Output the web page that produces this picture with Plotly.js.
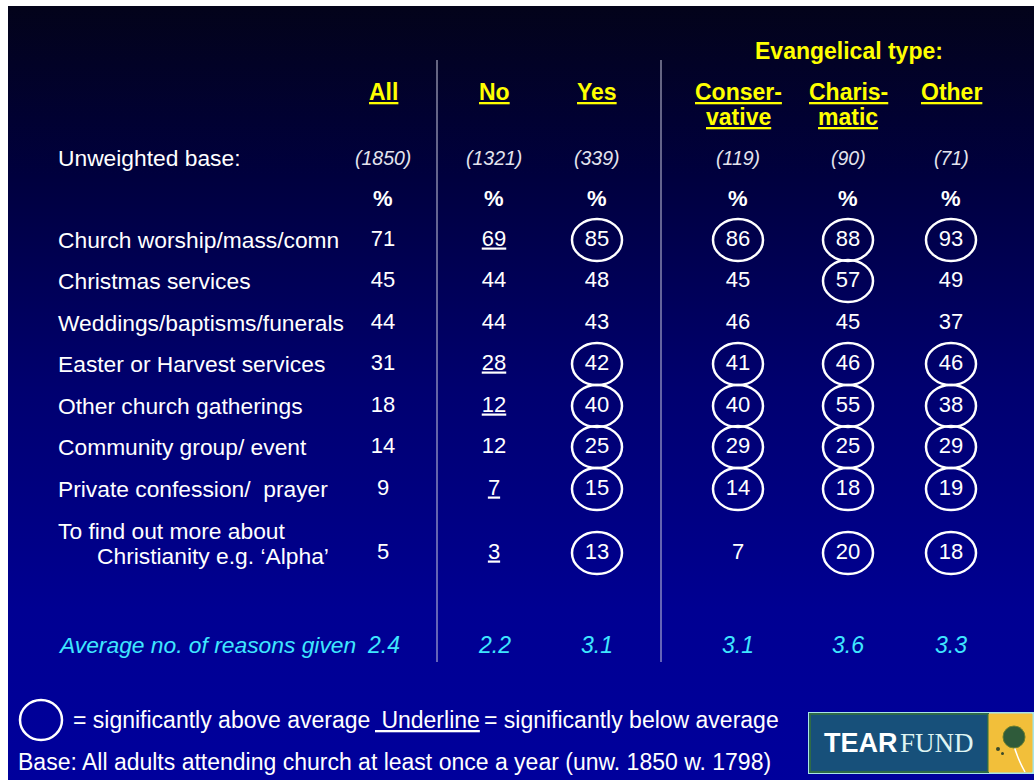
<!DOCTYPE html>
<html>
<head>
<meta charset="utf-8">
<script src="https://cdn.plot.ly/plotly-3.0.1.min.js"></script>
<style>
  body { margin: 0; background: #fff; }
  #wrap { position: relative; width: 1034px; height: 780px; overflow: hidden; background: #fff; }
  #bg { position: absolute; left: 8px; top: 6px; width: 1026px; height: 774px;
        background: linear-gradient(to bottom, #03031a 0%, #00003e 22%, #000070 50%, #000092 78%, #00009c 100%); }
  #chart { position: absolute; left: 0; top: 0; width: 1034px; height: 780px; }
</style>
</head>
<body>
<div id="wrap"><div id="bg"></div><div id="chart"></div></div>
<script>
// column headings, split where the slide breaks them
var headTop = ['All', 'No', 'Yes', 'Conser-', 'Charis-', 'Other'];
var headBottom = ['', '', '', 'vative', 'matic', ''];
var bases = ['(1850)', '(1321)', '(339)', '(119)', '(90)', '(71)'];

var reasons = [
    'Church worship/mass/comn',
    'Christmas services',
    'Weddings/baptisms/funerals',
    'Easter or Harvest services',
    'Other church gatherings',
    'Community group/ event',
    'Private confession/  prayer',
    'To find out more about\nChristianity e.g. \u2018Alpha\u2019'
];

// % giving each reason, one list per column
var allPct    = [71, 45, 44, 31, 18, 14, 9, 5];
var noPct     = [69, 44, 44, 28, 12, 12, 7, 3];
var yesPct    = [85, 48, 43, 42, 40, 25, 15, 13];
var consPct   = [86, 45, 46, 41, 40, 29, 14, 7];
var charisPct = [88, 57, 45, 46, 55, 25, 18, 20];
var otherPct  = [93, 49, 37, 46, 38, 29, 19, 18];

// hi = significantly above average (circled), lo = below (underlined)
var sigAll    = ['', '', '', '', '', '', '', ''];
var sigNo     = ['lo', '', '', 'lo', 'lo', '', 'lo', 'lo'];
var sigYes    = ['hi', '', '', 'hi', 'hi', 'hi', 'hi', 'hi'];
var sigCons   = ['hi', '', '', 'hi', 'hi', 'hi', 'hi', ''];
var sigCharis = ['hi', 'hi', '', 'hi', 'hi', 'hi', 'hi', 'hi'];
var sigOther  = ['hi', '', '', 'hi', 'hi', 'hi', 'hi', 'hi'];

var averages = [2.4, 2.2, 3.1, 3.1, 3.6, 3.3];

// layout: where columns and rows sit on the slide
var colX = [383, 494, 597, 738, 848, 951];
var rowY = [240, 281, 323, 364, 406, 447, 489, 553];
var sepX = [437, 661];
var labelX = 56;

var FONT = 'Liberation Sans, Arial, Helvetica, sans-serif';
var YELLOW = '#ffff00';
var CYAN = '#3fe6ff';

var pct = [allPct, noPct, yesPct, consPct, charisPct, otherPct];
var sig = [sigAll, sigNo, sigYes, sigCons, sigCharis, sigOther];

function note(x, y, s, size, color, extra) {
    var a = {
        x: x, y: y, xref: 'x', yref: 'y', text: s, showarrow: false,
        xanchor: 'center', yanchor: 'middle',
        font: { family: FONT, size: size, color: color }
    };
    for (var k in extra) {
        if (k === 'font') Object.assign(a.font, extra.font);
        else a[k] = extra[k];
    }
    return a;
}

var annotations = [];
var shapes = [];

annotations.push(note(849, 51, 'Evangelical type:', 23, YELLOW, { font: { weight: 'bold' } }));
for (var j = 0; j < headTop.length; j++) {
    annotations.push(note(colX[j], 92, headTop[j], 23, YELLOW, { font: { weight: 'bold', lineposition: 'under' } }));
    if (headBottom[j]) {
        annotations.push(note(colX[j], 117, headBottom[j], 23, YELLOW, { font: { weight: 'bold', lineposition: 'under' } }));
    }
    annotations.push(note(colX[j], 158, bases[j], 19.5, '#e4e4ee', { font: { style: 'italic' } }));
    annotations.push(note(colX[j], 198, '%', 22, '#ffffff', { font: { weight: 'bold' } }));
    annotations.push(note(colX[j], 645, averages[j].toFixed(1), 23, CYAN, { font: { style: 'italic' } }));
}

annotations.push(note(labelX, 158, 'Unweighted base:', 22.8, '#ffffff', { xanchor: 'left' }));
annotations.push(note(labelX, 645, 'Average no. of reasons given', 22.8, CYAN, { xanchor: 'left', font: { style: 'italic' } }));

for (var i = 0; i < reasons.length; i++) {
    var lines = reasons[i].split('\n');
    if (lines.length === 1) {
        annotations.push(note(labelX, rowY[i], lines[0], 22.8, '#ffffff', { xanchor: 'left' }));
    } else {
        annotations.push(note(labelX, rowY[i] - 22, lines[0], 22.8, '#ffffff', { xanchor: 'left' }));
        annotations.push(note(labelX, rowY[i] + 3, lines[1], 22.8, '#ffffff', { xanchor: 'left', xshift: 39 }));
    }
}

// value traces: plain and underlined
var plain = { x: [], y: [], text: [] };
var under = { x: [], y: [], text: [] };
for (var j = 0; j < pct.length; j++) {
    for (var i = 0; i < pct[j].length; i++) {
        var t = sig[j][i] === 'lo' ? under : plain;
        t.x.push(colX[j]);
        t.y.push(rowY[i]);
        t.text.push(String(pct[j][i]));
        if (sig[j][i] === 'hi') {
            shapes.push({
                type: 'circle', xref: 'x', yref: 'y',
                x0: colX[j] - 25, x1: colX[j] + 25,
                y0: rowY[i] - 21, y1: rowY[i] + 21,
                line: { color: '#ffffff', width: 2.5 }
            });
        }
    }
}

for (var s = 0; s < sepX.length; s++) {
    shapes.push({
        type: 'line', xref: 'x', yref: 'y',
        x0: sepX[s], x1: sepX[s], y0: 60, y1: 662,
        line: { color: '#c8c8dc', width: 1 }
    });
}

// key at the bottom
shapes.push({ type: 'circle', xref: 'x', yref: 'y', x0: 20, x1: 62, y0: 700, y1: 740, line: { color: '#ffffff', width: 2.5 } });
annotations.push(note(71, 720, '= significantly above average', 23, '#ffffff', { xanchor: 'left' }));
annotations.push(note(373, 720, '\u00a0Underline', 23, '#ffffff', { xanchor: 'left', font: { lineposition: 'under' } }));
annotations.push(note(482, 720, '= significantly below average', 23, '#ffffff', { xanchor: 'left' }));
annotations.push(note(16, 762, 'Base: All adults attending church at least once a year (unw. 1850 w. 1798)', 23, '#ffffff', { xanchor: 'left' }));

// Tearfund logo
shapes.push({ type: 'rect', xref: 'x', yref: 'y', x0: 809, x1: 1033, y0: 713, y1: 773, fillcolor: 'rgba(0,0,0,0)', line: { color: '#a8e4e8', width: 2 } });
shapes.push({ type: 'rect', xref: 'x', yref: 'y', x0: 810, x1: 988, y0: 714, y1: 772, fillcolor: '#17507a', line: { color: '#2e6a48', width: 2 } });
shapes.push({ type: 'rect', xref: 'x', yref: 'y', x0: 989, x1: 1032, y0: 714, y1: 772, fillcolor: '#f2bf3a', line: { color: '#f2bf3a', width: 1 } });
shapes.push({ type: 'path', xref: 'x', yref: 'y', path: 'M 1013 742 Q 1017 758 1025 772', line: { color: '#ffffff', width: 1.5 } });
shapes.push({ type: 'circle', xref: 'x', yref: 'y', x0: 1003, x1: 1025, y0: 726, y1: 748, fillcolor: '#2f5b3a', line: { color: '#6a7f30', width: 1 } });
shapes.push({ type: 'circle', xref: 'x', yref: 'y', x0: 996, x1: 1000, y0: 747, y1: 751, fillcolor: '#3a4a2a', line: { width: 0 } });
shapes.push({ type: 'circle', xref: 'x', yref: 'y', x0: 1001, x1: 1004, y0: 752, y1: 755, fillcolor: '#3a4a2a', line: { width: 0 } });
annotations.push(note(900, 743, 'TEAR', 27, '#ffffff', { xanchor: 'right', font: { weight: 'bold' } }));
annotations.push(note(898, 743, 'FUND', 27, '#dff4f2', { xanchor: 'left', font: { family: 'Liberation Serif, Times New Roman, serif' } }));

var traces = [
    {
        x: plain.x, y: plain.y, text: plain.text, mode: 'text', type: 'scatter',
        textposition: 'middle center', hoverinfo: 'skip',
        textfont: { family: FONT, size: 22, color: '#ffffff' }
    },
    {
        x: under.x, y: under.y, text: under.text, mode: 'text', type: 'scatter',
        textposition: 'middle center', hoverinfo: 'skip',
        textfont: { family: FONT, size: 22, color: '#ffffff', lineposition: 'under' }
    }
];

var layout = {
    width: 1034, height: 780,
    margin: { l: 0, r: 0, t: 0, b: 0 },
    paper_bgcolor: 'rgba(0,0,0,0)',
    plot_bgcolor: 'rgba(0,0,0,0)',
    showlegend: false,
    xaxis: { range: [0, 1034], visible: false, fixedrange: true },
    yaxis: { range: [780, 0], visible: false, fixedrange: true },
    shapes: shapes,
    annotations: annotations
};

Plotly.newPlot('chart', traces, layout, { displayModeBar: false, staticPlot: true });
</script>
</body>
</html>
